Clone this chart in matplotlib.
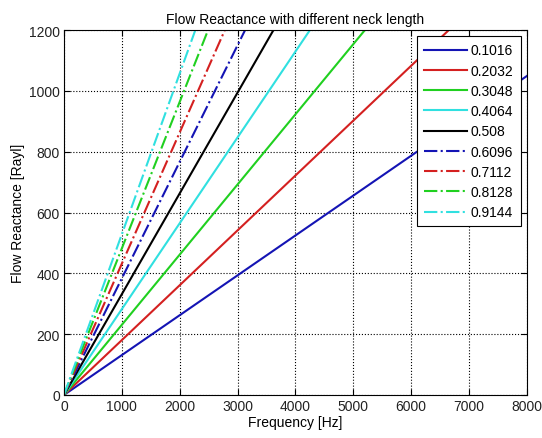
import matplotlib
matplotlib.use("Agg")
from matplotlib import pyplot as plt

# neck lengths (legend) and the frequency [Hz] where each line reaches 1200 Rayl
neck_length = ["0.1016", "0.2032", "0.3048", "0.4064", "0.508",
               "0.6096", "0.7112", "0.8128", "0.9144"]
f_at_1200 = [9150, 6650, 5200, 4250, 3620, 3130, 2780, 2490, 2270]
colors = ["#1414b4", "#d42020", "#20d020", "#30e0e0", "#000000",
          "#1414b4", "#d42020", "#20d020", "#30e0e0"]
styles = ["-", "-", "-", "-", "-", "-.", "-.", "-.", "-."]

plt.rcParams['font.family'] = ['Liberation Sans', 'DejaVu Sans']
plt.rcParams['font.size'] = 10

fig = plt.figure(figsize=(5.42, 4.39), dpi=100)
ax = fig.add_axes([0.118, 0.098, 0.854, 0.831])

for lab, fe, c, ls in zip(neck_length, f_at_1200, colors, styles):
    ax.plot([0, fe], [0, 1200], color=c, linestyle=ls, linewidth=1.5, label=lab)

ax.set_xlim(0, 8000)
ax.set_ylim(0, 1200)
ax.set_xticks(range(0, 8001, 1000))
ax.set_yticks(range(0, 1201, 200))
ax.grid(True, color='k', linestyle=':', linewidth=0.8)
ax.tick_params(direction='in', length=4, top=True, right=True, labelcolor='#222222', pad=3)
ax.set_title("Flow Reactance with different neck length", fontsize=10, pad=5)
ax.set_xlabel("Frequency [Hz]", labelpad=1)
ax.set_ylabel("Flow Reactance [Rayl]", labelpad=3)

leg = ax.legend(loc='upper right', fancybox=False, framealpha=1, edgecolor='k',
                handlelength=3.1, handletextpad=0.3, labelspacing=0.45,
                borderaxespad=0.45, borderpad=0.5, fontsize=10)
leg.get_frame().set_linewidth(0.8)

fig.savefig("out.png", dpi=100)
